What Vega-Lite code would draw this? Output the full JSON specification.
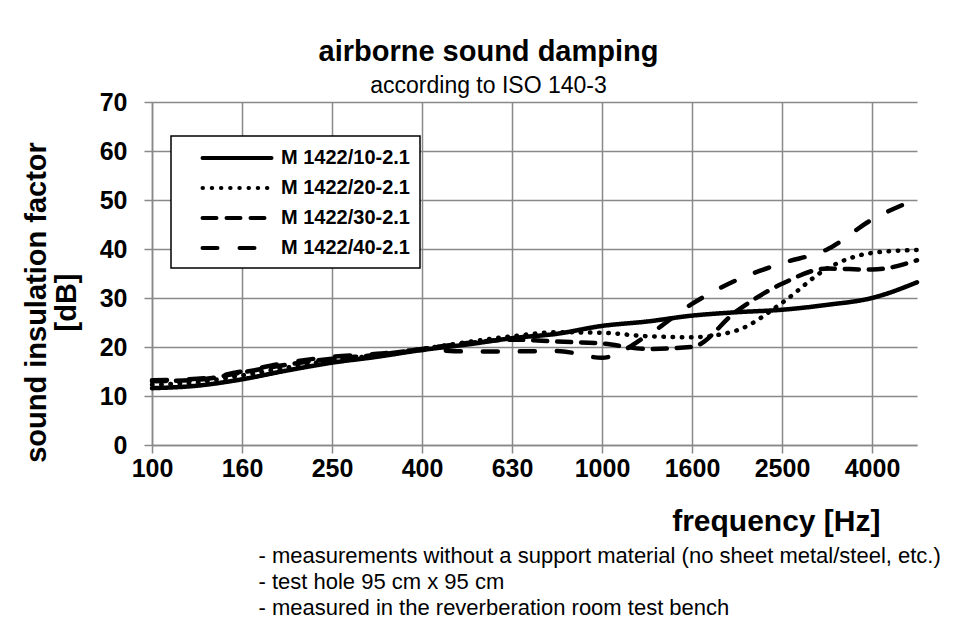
{
  "$schema": "https://vega.github.io/schema/vega-lite/v6.json",
  "width": 765,
  "height": 343,
  "autosize": {"type": "none"},
  "padding": {"left": 152, "top": 102, "right": 41, "bottom": 183},
  "background": "white",
  "title": {
    "text": "airborne sound damping",
    "subtitle": "according to ISO 140-3",
    "anchor": "middle",
    "dx": -46,
    "offset": -8,
    "font": "Liberation Sans",
    "fontSize": 29,
    "fontWeight": "bold",
    "color": "black",
    "subtitleFont": "Liberation Sans",
    "subtitleFontSize": 23,
    "subtitleFontWeight": "normal",
    "subtitleColor": "black",
    "subtitlePadding": 8
  },
  "data": {
    "values": [
      {"f": "100", "s": "M 1422/10-2.1", "v": 11.6},
      {"f": "125", "s": "M 1422/10-2.1", "v": 12.1},
      {"f": "160", "s": "M 1422/10-2.1", "v": 13.4},
      {"f": "200", "s": "M 1422/10-2.1", "v": 15.2},
      {"f": "250", "s": "M 1422/10-2.1", "v": 16.8},
      {"f": "315", "s": "M 1422/10-2.1", "v": 18.0},
      {"f": "400", "s": "M 1422/10-2.1", "v": 19.4},
      {"f": "500", "s": "M 1422/10-2.1", "v": 20.5},
      {"f": "630", "s": "M 1422/10-2.1", "v": 21.8},
      {"f": "800", "s": "M 1422/10-2.1", "v": 22.7},
      {"f": "1000", "s": "M 1422/10-2.1", "v": 24.3},
      {"f": "1250", "s": "M 1422/10-2.1", "v": 25.2},
      {"f": "1600", "s": "M 1422/10-2.1", "v": 26.4},
      {"f": "2000", "s": "M 1422/10-2.1", "v": 27.1},
      {"f": "2500", "s": "M 1422/10-2.1", "v": 27.6},
      {"f": "3150", "s": "M 1422/10-2.1", "v": 28.6},
      {"f": "4000", "s": "M 1422/10-2.1", "v": 30.0},
      {"f": "5000", "s": "M 1422/10-2.1", "v": 33.2},
      {"f": "100", "s": "M 1422/20-2.1", "v": 12.3},
      {"f": "125", "s": "M 1422/20-2.1", "v": 12.8},
      {"f": "160", "s": "M 1422/20-2.1", "v": 14.2},
      {"f": "200", "s": "M 1422/20-2.1", "v": 15.8},
      {"f": "250", "s": "M 1422/20-2.1", "v": 17.3},
      {"f": "315", "s": "M 1422/20-2.1", "v": 18.3},
      {"f": "400", "s": "M 1422/20-2.1", "v": 19.6},
      {"f": "500", "s": "M 1422/20-2.1", "v": 21.0},
      {"f": "630", "s": "M 1422/20-2.1", "v": 22.2},
      {"f": "800", "s": "M 1422/20-2.1", "v": 23.0},
      {"f": "1000", "s": "M 1422/20-2.1", "v": 22.9},
      {"f": "1250", "s": "M 1422/20-2.1", "v": 22.2},
      {"f": "1600", "s": "M 1422/20-2.1", "v": 22.0},
      {"f": "2000", "s": "M 1422/20-2.1", "v": 23.4},
      {"f": "2500", "s": "M 1422/20-2.1", "v": 29.0},
      {"f": "3150", "s": "M 1422/20-2.1", "v": 36.0},
      {"f": "4000", "s": "M 1422/20-2.1", "v": 39.2},
      {"f": "5000", "s": "M 1422/20-2.1", "v": 39.8},
      {"f": "100", "s": "M 1422/30-2.1", "v": 13.0},
      {"f": "125", "s": "M 1422/30-2.1", "v": 13.3},
      {"f": "160", "s": "M 1422/30-2.1", "v": 14.8},
      {"f": "200", "s": "M 1422/30-2.1", "v": 16.4},
      {"f": "250", "s": "M 1422/30-2.1", "v": 17.6},
      {"f": "315", "s": "M 1422/30-2.1", "v": 18.4},
      {"f": "400", "s": "M 1422/30-2.1", "v": 19.6},
      {"f": "500", "s": "M 1422/30-2.1", "v": 20.8},
      {"f": "630", "s": "M 1422/30-2.1", "v": 21.5},
      {"f": "800", "s": "M 1422/30-2.1", "v": 21.1},
      {"f": "1000", "s": "M 1422/30-2.1", "v": 20.7},
      {"f": "1250", "s": "M 1422/30-2.1", "v": 19.6},
      {"f": "1600", "s": "M 1422/30-2.1", "v": 20.0},
      {"f": "2000", "s": "M 1422/30-2.1", "v": 27.4},
      {"f": "2500", "s": "M 1422/30-2.1", "v": 32.9},
      {"f": "3150", "s": "M 1422/30-2.1", "v": 36.0},
      {"f": "4000", "s": "M 1422/30-2.1", "v": 35.8},
      {"f": "5000", "s": "M 1422/30-2.1", "v": 37.7},
      {"f": "100", "s": "M 1422/40-2.1", "v": 13.2},
      {"f": "125", "s": "M 1422/40-2.1", "v": 13.5},
      {"f": "160", "s": "M 1422/40-2.1", "v": 15.0},
      {"f": "200", "s": "M 1422/40-2.1", "v": 16.8},
      {"f": "250", "s": "M 1422/40-2.1", "v": 18.0},
      {"f": "315", "s": "M 1422/40-2.1", "v": 18.6},
      {"f": "400", "s": "M 1422/40-2.1", "v": 19.4},
      {"f": "500", "s": "M 1422/40-2.1", "v": 19.1},
      {"f": "630", "s": "M 1422/40-2.1", "v": 19.1},
      {"f": "800", "s": "M 1422/40-2.1", "v": 19.2},
      {"f": "1000", "s": "M 1422/40-2.1", "v": 17.8},
      {"f": "1250", "s": "M 1422/40-2.1", "v": 22.3},
      {"f": "1600", "s": "M 1422/40-2.1", "v": 28.8},
      {"f": "2000", "s": "M 1422/40-2.1", "v": 33.7},
      {"f": "2500", "s": "M 1422/40-2.1", "v": 37.1},
      {"f": "3150", "s": "M 1422/40-2.1", "v": 39.9},
      {"f": "4000", "s": "M 1422/40-2.1", "v": 46.0},
      {"f": "5000", "s": "M 1422/40-2.1", "v": 50.2}
    ]
  },
  "layer": [
    {
      "mark": {"type": "line", "color": "black", "strokeWidth": 4.5, "strokeCap": "round", "interpolate": "monotone"},
      "encoding": {
        "x": {
          "field": "f",
          "type": "ordinal",
          "sort": ["100","125","160","200","250","315","400","500","630","800","1000","1250","1600","2000","2500","3150","4000","5000"],
          "scale": {"type": "point", "padding": 0},
          "axis": {
            "values": ["100","160","250","400","630","1000","1600","2500","4000"],
            "labelAngle": 0,
            "labelFont": "Liberation Sans",
            "labelFontSize": 25,
            "labelFontWeight": "bold",
            "labelColor": "black",
            "labelPadding": 3,
            "tickSize": 8,
            "tickColor": "#898989",
            "tickWidth": 1.5,
            "domainColor": "#898989",
            "domainWidth": 1.5,
            "grid": true,
            "gridColor": "#898989",
            "gridWidth": 1.5,
            "title": "frequency [Hz]",
            "titleFont": "Liberation Sans",
            "titleFontSize": 30,
            "titleFontWeight": "bold",
            "titleColor": "black",
            "titleX": 728,
            "titleY": 85,
            "titleAlign": "right",
            "titleBaseline": "alphabetic"
          }
        },
        "y": {
          "field": "v",
          "type": "quantitative",
          "scale": {"domain": [0, 70], "nice": false},
          "axis": {
            "values": [0,10,20,30,40,50,60,70],
            "labelFont": "Liberation Sans",
            "labelFontSize": 25,
            "labelFontWeight": "bold",
            "labelColor": "black",
            "labelPadding": 17,
            "tickSize": 8,
            "tickColor": "#898989",
            "tickWidth": 1.5,
            "domainColor": "#898989",
            "domainWidth": 1.5,
            "grid": true,
            "gridColor": "#898989",
            "gridWidth": 1.5,
            "title": ["sound insulation factor", "[dB]"],
            "titleFont": "Liberation Sans",
            "titleFontSize": 29,
            "titleFontWeight": "bold",
            "titleColor": "black",
            "titleLineHeight": 30,
            "titleX": -116,
            "titleY": 200,
            "titleAlign": "center",
            "titleBaseline": "middle",
            "titleAngle": 270
          }
        },
        "strokeDash": {
          "field": "s",
          "type": "nominal",
          "scale": {
            "domain": ["M 1422/10-2.1","M 1422/20-2.1","M 1422/30-2.1","M 1422/40-2.1"],
            "range": [[1,0],[0.5,8.7],[14,10],[15,22]]
          },
          "legend": {
            "title": null,
            "orient": "none",
            "legendX": 19,
            "legendY": 34,
            "direction": "vertical",
            "fillColor": "white",
            "strokeColor": "black",
            "padding": 10,
            "symbolType": "M-3.45,0L3.45,0",
            "symbolSize": 400,
            "symbolStrokeWidth": 4,
            "symbolStrokeColor": "black",
            "symbolOffset": 44,
            "labelFont": "Liberation Sans",
            "labelFontSize": 20,
            "labelFontWeight": "bold",
            "labelColor": "black",
            "labelOffset": 32,
            "rowPadding": 8,
            "encode": {
              "legend": {"update": {"strokeWidth": {"value": 1.5}}},
              "symbols": {"update": {"strokeCap": {"value": "round"}}}
            }
          }
        }
      }
    },
    {
      "mark": {"type": "point", "opacity": 0},
      "encoding": {
        "x": {
          "field": "f",
          "type": "ordinal",
          "sort": ["100","125","160","200","250","315","400","500","630","800","1000","1250","1600","2000","2500","3150","4000","5000"],
          "scale": {"type": "point", "padding": 0},
          "axis": {
            "orient": "bottom",
            "labels": false,
            "ticks": false,
            "domain": false,
            "grid": false,
            "title": ["- measurements without a support material (no sheet metal/steel, etc.)", "- test hole 95 cm x 95 cm", "- measured in the reverberation room test bench"],
            "titleFont": "Liberation Sans",
            "titleFontSize": 22,
            "titleFontWeight": "normal",
            "titleColor": "black",
            "titleLineHeight": 26,
            "titleX": 106,
            "titleY": 100,
            "titleAlign": "left",
            "titleBaseline": "top",
            "titleAngle": 0
          }
        },
        "y": {"field": "v", "type": "quantitative"}
      }
    }
  ],
  "resolve": {"axis": {"x": "independent"}},
  "config": {"view": {"stroke": null}}
}
